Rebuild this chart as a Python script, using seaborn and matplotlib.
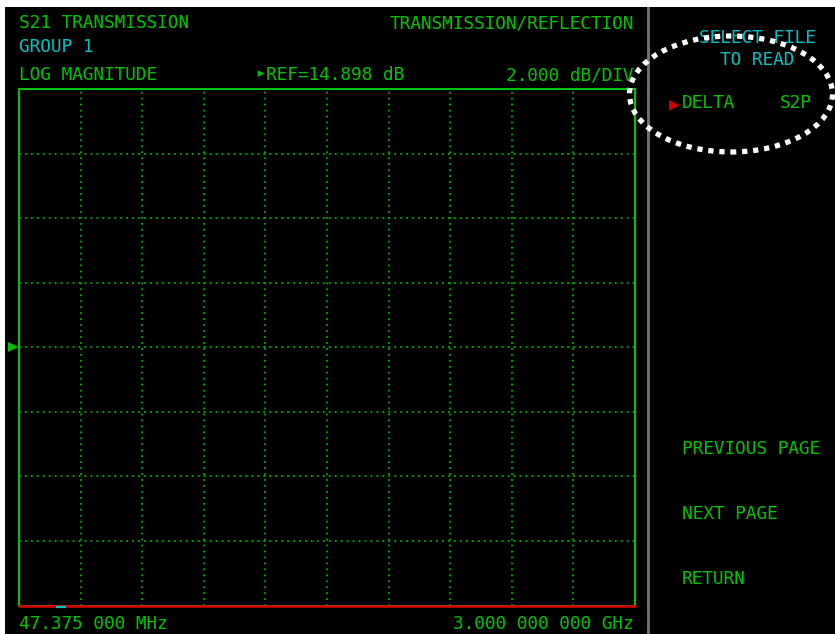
import numpy as np
import pandas as pd
import matplotlib
matplotlib.use("Agg")
import matplotlib.pyplot as plt
import matplotlib.transforms as mtransforms
from matplotlib.patches import Ellipse, Rectangle
import seaborn as sns

# ---- instrument state -------------------------------------------------
start_mhz = 47.375
stop_mhz = 3000.0
ref_level_db = 14.898
scale_db_per_div = 2.0
n_xdiv = 10
n_ydiv = 8

# S21 trace as displayed (pinned to the bottom graticule line)
trace_freq_mhz = [47.375, 3000.0]
trace_db = [6.898, 6.898]

# marker position
marker_freq_mhz = [250.0]

# soft-key menu
menu_title = ["SELECT FILE", "TO READ"]
menu_keys = ["PREVIOUS PAGE", "NEXT PAGE", "RETURN"]

# ---- colours ------------------------------------------------------------
GREEN = "#00c400"
GRID_GREEN = "#00b000"
CYAN = "#00c4c4"
RED = "#d00000"
BLACK = "#000000"

W, H = 835, 634
DPI = 100

sns.set_theme(style="dark", rc={
    "axes.facecolor": BLACK,
    "figure.facecolor": "white",
    "savefig.facecolor": "white",
})
plt.rcParams["font.family"] = ["DejaVu Sans Mono", "DejaVu Sans"]

fig = plt.figure(figsize=(W / DPI, H / DPI), dpi=DPI)


def fx(px):
    return px / W


def fy(py):
    return 1 - py / H


# black screen area
fig.add_artist(Rectangle((fx(5), 0), fx(W - 5), fy(7), transform=fig.transFigure,
                         facecolor=BLACK, edgecolor="none", zorder=0))
# separator between graticule and soft keys
fig.add_artist(Rectangle((fx(646.5), 0), fx(3), fy(7), transform=fig.transFigure,
                         facecolor="#6e6e6e", edgecolor="none", zorder=1))

# graticule
left, right, top, bottom = 19, 635, 89.5, 605.5
ax = fig.add_axes([fx(left), fy(bottom), fx(right - left), (bottom - top) / H])
ax.set_facecolor(BLACK)

ymin = ref_level_db - scale_db_per_div * n_ydiv / 2
ymax = ref_level_db + scale_db_per_div * n_ydiv / 2

df = pd.DataFrame({"freq": trace_freq_mhz, "s21": trace_db})
sns.lineplot(data=df, x="freq", y="s21", ax=ax, color=RED, linewidth=1.9,
             clip_on=False, zorder=5)

ax.set_xlim(start_mhz, stop_mhz)
ax.set_ylim(ymin, ymax)
ax.set_xticks(np.linspace(start_mhz, stop_mhz, n_xdiv + 1))
ax.set_yticks(np.linspace(ymin, ymax, n_ydiv + 1))
ax.tick_params(length=0, labelbottom=False, labelleft=False)
ax.set_xlabel("")
ax.set_ylabel("")
ax.grid(True, color=GRID_GREEN, linestyle=(0, (1, 2.3)), linewidth=1.3)
for side, sp in ax.spines.items():
    sp.set_visible(True)
    sp.set_color(GREEN)
    sp.set_linewidth(1.5)

# reference level arrow on the left edge
ref_tr = mtransforms.blended_transform_factory(ax.transAxes, ax.transData)
ax.plot([-0.0105], [ref_level_db], marker=">", markersize=6.5, color=GREEN,
        markeredgewidth=0, transform=ref_tr, clip_on=False, linestyle="none")

# marker flag under the trace
off = mtransforms.offset_copy(ax.transData, fig=fig, x=0, y=-1.5, units="dots")
ax.plot(marker_freq_mhz, [ymin], marker="_", markersize=6.5, markeredgewidth=1.6,
        color=CYAN, transform=off, clip_on=False, linestyle="none", zorder=6)

FS = 12.8


def txt(x, base, s, color=GREEN, ha="left", size=FS):
    fig.text(fx(x), fy(base), s, color=color, ha=ha, va="baseline",
             fontsize=size, zorder=10)


# header
txt(19, 28, "S21 TRANSMISSION")
txt(634, 28, "TRANSMISSION/REFLECTION", ha="right")
txt(19, 52, "GROUP 1", color=CYAN)
txt(19, 80, "LOG MAGNITUDE")
txt(255, 78.5, "\u25b8", size=12)
txt(266, 80, f"REF={ref_level_db:.3f} dB")
txt(634, 80, f"{scale_db_per_div:.3f} dB/DIV", ha="right")

# frequency span
txt(19, 629, f"{start_mhz:.3f} 000 MHz")
txt(634, 629, f"{stop_mhz / 1000:.3f} 000 000 GHz", ha="right")

# soft keys
txt(757, 43, menu_title[0], color=CYAN, ha="center")
txt(757, 65, menu_title[1], color=CYAN, ha="center")
txt(669, 109, "\u25b6", color=RED, size=13)
txt(682, 108, "DELTA")
txt(780, 108, "S2P")
for label, base in zip(menu_keys, [454, 519, 584]):
    txt(682, base, label)

# dotted highlight round the file selection
fig.add_artist(Ellipse((fx(731), fy(94)), fx(203), 116 / H, transform=fig.transFigure,
                       fill=False, edgecolor="white", linewidth=3.8,
                       linestyle=(0, (1, 1.1)), zorder=12))

fig.savefig("out.png", dpi=DPI)
